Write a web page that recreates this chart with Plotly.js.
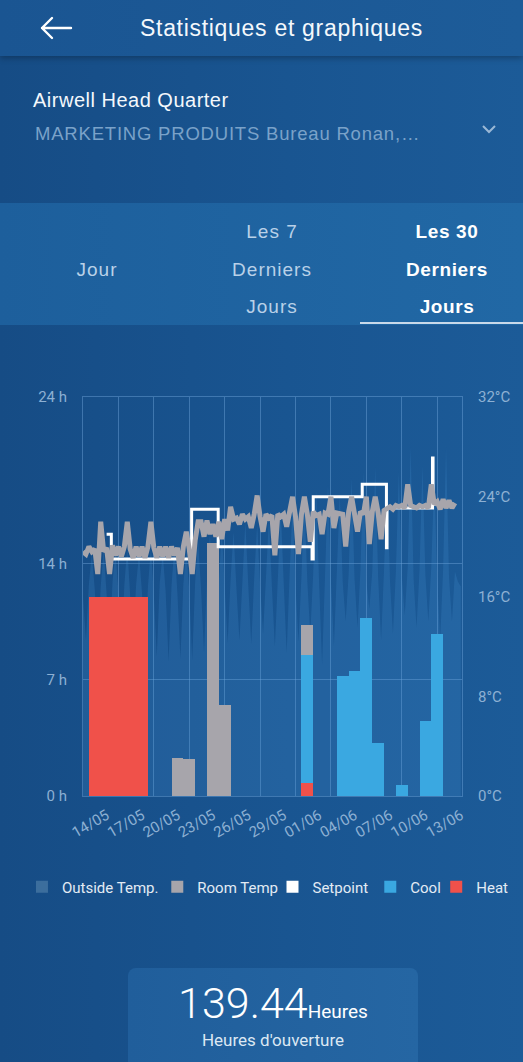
<!DOCTYPE html>
<html><head><meta charset="utf-8">
<script src="https://cdn.plot.ly/plotly-3.0.1.min.js"></script>
<style>
html,body{margin:0;padding:0;}
body{width:523px;height:1062px;overflow:hidden;position:relative;
 background:linear-gradient(90deg,#164c85 0%,#195591 55%,#1c5b98 100%);
 font-family:"Liberation Sans",Arial,sans-serif;}
#header{position:absolute;left:0;top:0;width:523px;height:56px;background:linear-gradient(90deg,#1a5592,#1d5c99);box-shadow:0 2px 6px rgba(0,0,0,0.28);z-index:2;}
#title{position:absolute;left:140px;top:13px;height:30px;line-height:30px;font-size:23px;letter-spacing:0.7px;color:#f4f8fc;white-space:nowrap;z-index:3;}
#back{position:absolute;left:38px;top:14px;z-index:3;}
#site{position:absolute;left:33px;top:88px;line-height:24px;font-size:20px;letter-spacing:0.5px;color:#f4f8fc;white-space:nowrap;}
#zone{position:absolute;left:35px;top:123px;line-height:22px;font-size:18.5px;letter-spacing:0.8px;color:#7aa2c9;white-space:nowrap;}
#chev{position:absolute;left:480px;top:122px;}
#tabs{position:absolute;left:0;top:203px;width:523px;height:122px;background:linear-gradient(90deg,#1d5f9c,#2168a5);}
.tab{position:absolute;top:10px;width:170px;text-align:center;font-size:19px;letter-spacing:1px;line-height:37.5px;color:#b9d1e8;}
.sel{color:#ffffff;font-weight:bold;letter-spacing:0.6px;}
#uline{position:absolute;left:360px;top:322px;width:163px;height:2px;background:#c9d9ea;}
#chart{position:absolute;left:0;top:340px;width:523px;height:580px;}
#box{position:absolute;left:128px;top:968px;width:290px;height:110px;border-radius:8px;background:linear-gradient(90deg,#205e9b,#2566a3);text-align:center;}
#big{position:absolute;left:0;top:10px;width:290px;text-align:center;white-space:nowrap;color:#ffffff;font-family:Roboto,sans-serif;}
#big .n{font-size:43px;font-weight:300;}
#big .u{font-size:19px;}
#sub{position:absolute;left:0;top:62px;width:290px;text-align:center;font-family:Roboto,sans-serif;font-size:17px;color:#dce8f3;}
</style></head>
<body>
<div id="header"></div>
<svg id="back" width="36" height="28" viewBox="0 0 36 28"><path d="M4 14 H33 M4 14 L14 4 M4 14 L14 24" stroke="#ffffff" stroke-width="2.4" fill="none" stroke-linecap="round"/></svg>
<div id="title">Statistiques et graphiques</div>
<div id="site">Airwell Head Quarter</div>
<div id="zone">MARKETING PRODUITS Bureau Ronan,…</div>
<svg id="chev" width="18" height="14" viewBox="0 0 18 14"><path d="M3 4 L9 10 L15 4" stroke="#9ab8d6" stroke-width="2" fill="none"/></svg>
<div id="tabs">
 <div class="tab" style="left:12px;top:47.5px;">Jour</div>
 <div class="tab" style="left:187px;">Les 7<br>Derniers<br>Jours</div>
 <div class="tab sel" style="left:362px;">Les 30<br>Derniers<br>Jours</div>
</div>
<div id="uline"></div>
<div id="chart"></div>
<div id="box">
 <div id="big"><span class="n">139.44</span><span class="u">Heures</span></div>
 <div id="sub">Heures d'ouverture</div>
</div>
<script>
// ---- data ----
const dayIndex = [0,1,2,3,4,5,6,7,8,9,10,11,12,13,14,15,16,17,18,19,20,21,22,23,24,25,26,27,28,29,30,31];
const heatHours = [0,12,12,12,12,12,0,0,0,0,0,0,0,0,0,0,0,0,0,0.8,0,0,0,0,0,0,0,0,0,0,0,0];
const coolHours = [0,0,0,0,0,0,0,0,0,0,0,0,0,0,0,0,0,0,0,7.7,0,0,7.2,7.5,10.7,3.2,0,0.65,0,4.5,9.75,0];
const fanHours  = [0,0,0,0,0,0,0,0,2.3,2.2,0,15.2,5.5,0,0,0,0,0,0,1.8,0,0,0,0,0,0,0,0,0,0,0,0];
// readings every 6 hours starting at day 0
const sampleStepDays = 0.25;
const outsideTemp = [
 16.0,12.5,17.0,19.5, 16.5,11.8,16.8,19.8, 16.2,12.0,17.2,19.6, 16.4,11.5,16.9,20.0,
 16.0,12.2,17.0,19.4, 16.3,11.0,16.8,19.9, 16.1,11.2,17.1,19.5, 16.4,10.8,16.9,20.2,
 16.2,11.0,17.0,19.8, 16.5,10.9,17.2,20.4, 16.6,11.5,17.3,21.0, 16.4,12.0,17.0,21.5,
 16.8,12.3,17.4,21.2, 16.6,12.5,17.2,22.0, 16.9,12.2,17.5,21.8, 17.0,13.0,17.6,22.4,
 16.8,12.0,17.4,23.0, 17.1,11.5,17.8,23.5, 16.9,12.4,17.6,24.0, 17.2,13.0,17.9,24.5,
 17.0,10.5,17.7,25.0, 17.3,12.0,18.0,24.2, 17.1,14.0,17.8,25.5, 17.4,13.5,18.1,26.0,
 17.2,15.0,18.0,26.4, 17.5,12.5,18.2,25.0, 17.3,13.0,18.0,26.0, 17.6,14.5,18.3,28.0,
 17.4,13.5,18.1,26.5, 17.7,14.0,18.4,25.5, 17.5,12.5,18.2,28.0, 17.6,14.0,18.0,17.2,
 16.8
];
const roomTemp = [
 19.6,19.4,20.0,19.6, 19.8,17.8,22.0,19.6, 19.9,17.8,20.1,19.3, 20.0,19.2,20.0,22.0,
 19.8,19.1,20.0,19.2, 20.0,19.1,20.0,22.0, 19.9,19.1,20.0,19.2, 20.0,19.1,20.0,19.3,
 19.9,17.8,20.0,21.2, 19.8,17.8,20.5,22.0, 22.0,20.8,22.1,21.0, 21.8,20.8,22.0,20.6,
 22.2,21.3,23.2,22.2, 22.3,21.8,22.6,22.2, 22.4,21.5,22.6,24.1, 22.4,21.2,22.6,22.3,
 22.5,19.3,22.6,22.4, 22.6,21.6,22.8,24.0, 22.4,19.4,22.6,24.0, 22.6,20.4,22.8,22.5,
 22.6,21.0,22.7,22.6, 24.0,21.5,22.7,22.6, 22.6,20.0,22.8,24.0, 22.6,21.2,22.8,22.6,
 24.0,20.2,22.8,24.0, 22.7,20.6,22.9,23.0, 23.2,23.0,23.3,23.2, 23.3,23.1,25.0,23.3,
 23.2,23.1,23.3,23.2, 23.3,23.1,25.0,23.4, 23.6,23.0,23.8,23.1, 23.7,23.1,23.5
];
const setpointDay  = [2.0, 2.4, 9.2, 11.45, 19.4, 19.5, 23.65, 25.7, 25.75, 29.6, 29.65, 31.4];
const setpointTemp = [21, 19, 23, 20, 19, 24, 25, 19.9, 23.1, 27.1, 23.4, 23.4];
const xTickVals = [2,5,8,11,14,17,20,23,26,29,32];
const xTickText = ['14/05','17/05','20/05','23/05','26/05','29/05','01/06','04/06','07/06','10/06','13/06'];
const gridDays = [3,6,9,12,15,18,21,24,27,30];
const hourTicks = [0,7,14,24];
const hourText = ['0 h','7 h','14 h','24 h'];
const tempTicks = [0,8,16,24,32];
const tempText = ['0°C','8°C','16°C','24°C','32°C'];
const legendNames = ['Outside Temp.','Room Temp','Setpoint','Cool','Heat'];

// ---- colours / legend placement ----
const C = {outside:'#3c6e9d', room:'#a7a5ab', set:'#ffffff', cool:'#3aa8e1', heat:'#f0514a',
 grid:'rgba(120,172,225,0.42)', tick:'#8db0d3', legend:'#e3ebf4'};
const legendColors = [C.outside, C.room, C.set, C.cool, C.heat];
const legendBoxX = [-0.161, 0.196, 0.500, 0.758, 0.932];

const tOut = outsideTemp.map((v,i)=>i*sampleStepDays);
const tRoom = roomTemp.map((v,i)=>i*sampleStepDays);

const traces = [
 {type:'scatter', mode:'lines', x:tOut, y:outsideTemp, yaxis:'y', fill:'tozeroy',
  fillcolor:'rgba(75,150,215,0.20)', line:{width:0, color:'rgba(0,0,0,0)'}, showlegend:false, hoverinfo:'skip'},
 {type:'bar', x:dayIndex, y:heatHours, yaxis:'y2', marker:{color:C.heat}, width:1, showlegend:false},
 {type:'bar', x:dayIndex, y:coolHours, yaxis:'y2', marker:{color:C.cool}, width:1, showlegend:false},
 {type:'bar', x:dayIndex, y:fanHours, yaxis:'y2', marker:{color:C.room}, width:1, showlegend:false},
 {type:'scatter', mode:'lines', x:setpointDay, y:setpointTemp, yaxis:'y3', line:{color:C.set, width:3, shape:'hv'}, showlegend:false},
 {type:'scatter', mode:'lines', x:tRoom, y:roomTemp, yaxis:'y3', line:{color:C.room, width:5, shape:'linear'}, showlegend:false}
];

const layout = {
 width:523, height:580,
 margin:{l:83, r:61, t:57, b:124, autoexpand:false},
 paper_bgcolor:'rgba(0,0,0,0)', plot_bgcolor:'rgba(0,0,0,0)',
 barmode:'stack', bargap:0,
 showlegend:true,
 xaxis:{range:[0,32.1], showgrid:false, zeroline:false, showline:true, mirror:true, linecolor:C.grid, linewidth:1,
  tickmode:'array', tickvals:xTickVals, ticktext:xTickText, tickangle:-30, ticks:'',
  tickfont:{family:'Roboto, sans-serif', size:15, color:C.tick}, ticklabelshift:0, ticklabelstandoff:4,
  minor:{tickmode:'array', tickvals:gridDays, showgrid:true, gridcolor:C.grid, gridwidth:1, ticks:''}, fixedrange:true},
 yaxis:{range:[0,32], side:'right', showgrid:false, zeroline:false, showline:true, linecolor:C.grid, linewidth:1,
  tickmode:'array', tickvals:tempTicks, ticktext:tempText, ticks:'', tickfont:{family:'Roboto, sans-serif', size:15, color:C.tick}, ticklabelstandoff:12},
 yaxis2:{range:[0,24], overlaying:'y', side:'left', showgrid:true, gridcolor:C.grid, gridwidth:1, zeroline:false,
  showline:true, linecolor:C.grid, linewidth:1, tickmode:'array', tickvals:hourTicks, ticktext:hourText, ticks:'',
  tickfont:{family:'Roboto, sans-serif', size:15, color:C.tick}, ticklabelstandoff:12},
 yaxis3:{range:[0,32], overlaying:'y', side:'right', visible:false}
};

legendNames.forEach((n,i)=>{
 const key = i === 0 ? 'legend' : 'legend' + (i+1);
 traces.push({type:'bar', x:[null], y:[null], yaxis:'y2', name:n, marker:{color:legendColors[i]}, showlegend:true, legend:key});
 layout[key] = {orientation:'h', x:legendBoxX[i], xanchor:'left', y:-0.228, yanchor:'middle',
  font:{family:'Roboto, sans-serif', size:15, color:C.legend}, bgcolor:'rgba(0,0,0,0)', borderwidth:0, itemwidth:30};
});

Plotly.newPlot('chart', traces, layout, {displayModeBar:false, staticPlot:true});
</script>
</body></html>
